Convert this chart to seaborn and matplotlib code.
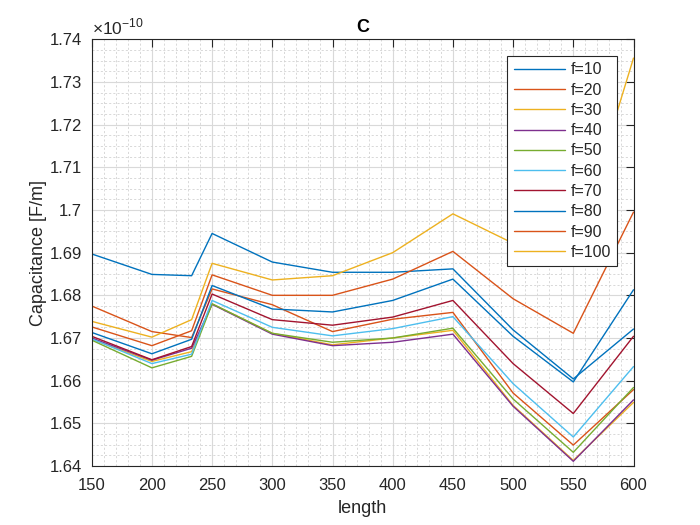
import numpy as np
import pandas as pd
import matplotlib
matplotlib.use("Agg")
import matplotlib.pyplot as plt
import seaborn as sns
from matplotlib.ticker import MultipleLocator, FuncFormatter

# ---- data (capacitance in units of 1e-10 F/m) ----
length = [150, 200, 233, 250, 300, 350, 400, 450, 500, 550, 600]
series_names = ["f=10", "f=20", "f=30", "f=40", "f=50", "f=60", "f=70", "f=80", "f=90", "f=100"]

f10 = [1.6897, 1.6849, 1.6846, 1.6945, 1.6878, 1.6854, 1.6854, 1.6862, 1.6719, 1.6604, 1.6721]
f20 = [1.6775, 1.6715, 1.6701, 1.6815, 1.6778, 1.6715, 1.6744, 1.6760, 1.6571, 1.6449, 1.6579]
f30 = [1.6697, 1.6645, 1.6668, 1.6780, 1.6711, 1.6684, 1.6700, 1.6718, 1.6542, 1.6413, 1.6549]
f40 = [1.6700, 1.6648, 1.6676, 1.6779, 1.6709, 1.6682, 1.6690, 1.6709, 1.6540, 1.6411, 1.6555]
f50 = [1.6695, 1.6630, 1.6657, 1.6780, 1.6711, 1.6690, 1.6700, 1.6723, 1.6557, 1.6432, 1.6584]
f60 = [1.6698, 1.6640, 1.6662, 1.6788, 1.6725, 1.6705, 1.6722, 1.6750, 1.6593, 1.6468, 1.6633]
f70 = [1.6704, 1.6649, 1.6680, 1.6803, 1.6743, 1.6730, 1.6749, 1.6788, 1.6640, 1.6523, 1.6704]
f80 = [1.6713, 1.6663, 1.6697, 1.6823, 1.6768, 1.6761, 1.6788, 1.6838, 1.6704, 1.6597, 1.6813]
f90 = [1.6726, 1.6682, 1.6717, 1.6848, 1.6800, 1.6800, 1.6838, 1.6903, 1.6792, 1.6711, 1.6995]
f100 = [1.6739, 1.6702, 1.6743, 1.6875, 1.6836, 1.6846, 1.6900, 1.6991, 1.6922, 1.6894, 1.7356]

colors = ["#0072BD", "#D95319", "#EDB120", "#7E2F8E", "#77AC30",
          "#4DBEEE", "#A2142F", "#0072BD", "#D95319", "#EDB120"]

all_vals = [f10, f20, f30, f40, f50, f60, f70, f80, f90, f100]
frames = []
for name, vals in zip(series_names, all_vals):
    frames.append(pd.DataFrame({"length": length, "C": vals, "series": name}))
df = pd.concat(frames, ignore_index=True)

sns.set_style("white")
plt.rcParams["font.family"] = ["Liberation Sans", "DejaVu Sans"]
plt.rcParams["mathtext.fontset"] = "custom"
plt.rcParams["mathtext.rm"] = "Liberation Sans"

fig = plt.figure(figsize=(7, 5.25), dpi=100)
ax = fig.add_axes([0.131, 0.1124, 0.774, 0.8127])

sns.lineplot(data=df, x="length", y="C", hue="series", hue_order=series_names,
             palette=dict(zip(series_names, colors)), linewidth=1.0,
             errorbar=None, ax=ax, legend=True)

dark = "#262626"
ax.set_xlim(150, 600)
ax.set_ylim(1.64, 1.74)
ax.xaxis.set_major_locator(MultipleLocator(50))
ax.xaxis.set_minor_locator(MultipleLocator(10))
ax.yaxis.set_major_locator(MultipleLocator(0.01))
ax.yaxis.set_minor_locator(MultipleLocator(0.0025))
ax.yaxis.set_major_formatter(FuncFormatter(lambda v, p: ("%.2f" % v).rstrip("0").rstrip(".")))

ax.grid(True, which="major", color="#d9d9d9", linewidth=0.8, linestyle="-")
ax.grid(True, which="minor", color="#d2d2d2", linewidth=0.6, linestyle=(0, (2.5, 2.5)))
ax.set_axisbelow(True)

for s in ax.spines.values():
    s.set_visible(True)
    s.set_color(dark)
    s.set_linewidth(0.8)
ax.tick_params(which="major", direction="in", length=6, width=0.8, color=dark,
               labelsize=12, labelcolor=dark, top=True, right=True)
ax.tick_params(axis="x", which="major", pad=9)
ax.tick_params(axis="y", which="major", pad=7)
ax.tick_params(which="minor", direction="in", length=0, top=True, right=True)

ax.set_xlabel("length", fontsize=13, color=dark, labelpad=5)
ax.set_ylabel("Capacitance [F/m]", fontsize=13, color=dark, labelpad=2)
ax.set_title("C", fontsize=13, fontweight="bold", color="black", pad=5)
ax.text(0.0, 1.004, r"$\times10^{-10}$", transform=ax.transAxes, fontsize=12.5,
        color=dark, ha="left", va="bottom")

handles, labels = ax.get_legend_handles_labels()
leg = ax.legend(handles, labels, loc="upper right", bbox_to_anchor=(0.97, 0.961),
                fontsize=11.5, frameon=True, fancybox=False, framealpha=1,
                edgecolor=dark, handlelength=3.2, labelspacing=0.33,
                borderpad=0.4, handletextpad=0.35, borderaxespad=0)
leg.get_frame().set_linewidth(0.8)
for line in leg.get_lines():
    line.set_linewidth(1.0)

fig.savefig("out.png", dpi=100, facecolor="white")
